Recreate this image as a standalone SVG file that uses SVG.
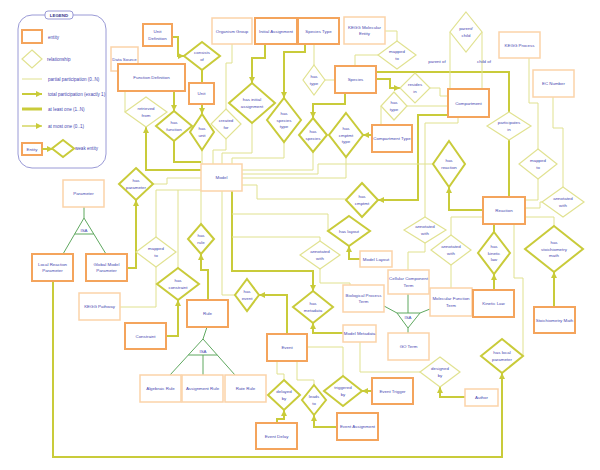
<svg xmlns="http://www.w3.org/2000/svg" width="600" height="470" viewBox="0 0 600 470">
<style>
.et{fill:#fff;stroke:#f4a45c;stroke-width:2}
.el{fill:#fff;stroke:#fbd3a9;stroke-width:1.5}
.rt{fill:#fff;stroke:#c9cb3a;stroke-width:2}
.rl{fill:#fff;stroke:#e1e291;stroke-width:1.2}
.t{fill:none;stroke:#c9cb3a;stroke-width:2}
.ta{fill:none;stroke:#c9cb3a;stroke-width:2;marker-end:url(#ah)}
.l{fill:none;stroke:#e0e18f;stroke-width:1}
.isa{fill:none;stroke:#5fa85f;stroke-width:1}
text{font-family:"Liberation Sans",Arial,sans-serif;font-size:4.4px;fill:#4646b0;text-anchor:middle}
.lg{text-anchor:start;font-size:4.6px}
</style>
<defs>
<marker id="ah" viewBox="0 0 6 6" refX="6" refY="3" markerWidth="6" markerHeight="6" markerUnits="userSpaceOnUse" orient="auto"><path d="M0,0L6,3L0,6z" fill="#c9cb3a"/></marker>
</defs>
<rect width="600" height="470" fill="#fff"/>

<g id="legend">
<rect x="18" y="15" width="88" height="153" rx="14" fill="none" stroke="#9a9ad6" stroke-width="1"/>
<rect x="45" y="11" width="28" height="8" rx="3" fill="#fff" stroke="#9a9ad6" stroke-width="1"/>
<text x="59" y="16.6" style="font-weight:bold;font-size:4.4px;fill:#333388">LEGEND</text>
<rect x="22" y="30" width="20" height="13" class="et"/>
<text class="lg" x="48" y="39">entity</text>
<polygon points="32,50 42,59 32,68 22,59" class="rl"/>
<text class="lg" x="47" y="60.5">relationship</text>
<line x1="22" y1="79" x2="42" y2="79" class="l"/>
<text class="lg" x="48" y="80.5">partial participation (0..N)</text>
<polyline points="22,94 42,94" class="ta"/>
<text class="lg" x="48" y="95.5">total participation (exactly 1)</text>
<line x1="22" y1="109" x2="42" y2="109" stroke="#c9cb3a" stroke-width="3"/>
<text class="lg" x="48" y="110.5">at least one (1..N)</text>
<polyline points="22,126 42,126" fill="none" stroke="#c9cb3a" stroke-width="1.2" marker-end="url(#ah)"/>
<text class="lg" x="48" y="127.5">at most one (0..1)</text>
<rect x="22" y="143" width="20" height="12" class="et"/>
<text x="32" y="150.5">Entity</text>
<polyline points="42,149 53,149" class="ta"/>
<polygon points="63,140 74,148.5 63,157 52,148.5" class="rt"/>
<text class="lg" x="75" y="150">weak entity</text>
</g>

<g id="connectors">
<polyline class="ta" points="172,37 178,37 178,56 184,56"/>
<polyline class="ta" points="174,91 174,111"/>
<polyline class="ta" points="202,104 202,114"/>
<polyline class="ta" points="201,170 146,170 146,127"/>
<polyline class="ta" points="265,44 265,58 252,58 252,83"/>
<polyline class="ta" points="305,44 305,52 284,52 284,98"/>
<polyline class="ta" points="376,79 390,79 390,88 400,88"/>
<polyline class="ta" points="372,135 363,135"/>
<polyline class="ta" points="345,93 345,104 313,104 313,118"/>
<polyline class="ta" points="448,115 418,115 418,200 378,200"/>
<polyline class="ta" points="483,210 449,210 449,187"/>
<polyline class="ta" points="554,307 554,272"/>
<polyline class="ta" points="494,290 494,274"/>
<polyline class="ta" points="53,281 53,457 502,457 502,373"/>
<polyline class="ta" points="127,268 136,268 136,200"/>
<polyline class="ta" points="166,336 178,336 178,300"/>
<polyline class="ta" points="208,300 208,270 201,270 201,254"/>
<polyline class="ta" points="287,334 287,295 259,295"/>
<polyline class="ta" points="232,191 232,271 313,271 313,291"/>
<polyline class="ta" points="343,333 313,333 313,323"/>
<polyline class="ta" points="360,259 349,259 349,246"/>
<polyline class="ta" points="372,391 362,391"/>
<polyline class="ta" points="337,427 314,427 314,415"/>
<polyline class="ta" points="277,423 277,419 284,419 284,410"/>
<polyline class="ta" points="465,397 440,397 440,387"/>
<polyline class="t" points="202,70 202,83"/>
<polyline class="t" points="174,141 174,162 201,162"/>
<polyline class="t" points="376,72 509,72 509,112"/>
<polyline class="t" points="509,140 509,197"/>
<polyline class="t" points="494,224 494,232"/>
<polyline class="l" points="125,71 125,112"/>
<polyline class="l" points="202,150 202,164"/>
<polyline class="l" points="232,44 232,63 226,63 226,109"/>
<polyline class="l" points="226,139 226,150 213,150 213,164"/>
<polyline class="l" points="252,123 252,153 222,153 222,164"/>
<polyline class="l" points="284,142 284,158 232,158 232,164"/>
<polyline class="l" points="314,44 314,65"/>
<polyline class="l" points="325,80 335,80"/>
<polyline class="l" points="385,31 397,31 397,41"/>
<polyline class="l" points="378,55 355,55 355,66"/>
<polyline class="l" points="430,88 440,88 440,96 448,96"/>
<polyline class="l" points="381,106 381,125"/>
<polyline class="l" points="407,106 448,106"/>
<polyline class="l" points="313,152 313,170 242,170"/>
<polyline class="l" points="346,157 346,178 242,178"/>
<polyline class="l" points="433,164 318,164 318,174 242,174"/>
<polyline class="l" points="242,185 257,185 257,199 346,199"/>
<polyline class="l" points="458,117 458,123 425,123 425,217"/>
<polyline class="l" points="450,32 450,89"/>
<polyline class="l" points="482,32 482,89"/>
<polyline class="l" points="529,58 529,103 538,103 538,149"/>
<polyline class="l" points="538,179 538,200 525,200"/>
<polyline class="l" points="553,97 553,128 563,128 563,187"/>
<polyline class="l" points="542,202 540,202 540,208 525,208"/>
<polyline class="l" points="525,217 554,217 554,226"/>
<polyline class="l" points="483,217 451,217 451,235"/>
<polyline class="l" points="451,265 451,288"/>
<polyline class="l" points="425,243 425,252 408,252 408,270"/>
<polyline class="l" points="514,224 514,278 523,278 523,356"/>
<polyline class="l" points="201,178 167,178 167,184 153,184"/>
<polyline class="l" points="201,190 156,190 156,237"/>
<polyline class="l" points="120,307 156,307 156,267"/>
<polyline class="l" points="178,190 178,268"/>
<polyline class="l" points="201,191 201,224"/>
<polyline class="l" points="222,191 222,295 235,295"/>
<polyline class="l" points="232,214 328,214 328,231"/>
<polyline class="l" points="232,237 320,237 320,241"/>
<polyline class="l" points="320,269 320,283 350,283 350,285"/>
<polyline class="l" points="307,347 343,347 343,376"/>
<polyline class="l" points="297,361 297,380 314,380 314,385"/>
<polyline class="l" points="277,361 277,374 284,374 284,380"/>
<polyline class="l" points="360,342 360,372 420,372"/>
<text x="437" y="63">parent of</text>
<text x="484" y="63">child of</text>
</g>

<g id="isa-parameter">
<polyline class="isa" points="84,207 84,218"/>
<polyline class="isa" points="63,254 84,218 106,254"/>
<line class="isa" x1="74.7" y1="234" x2="93.8" y2="234"/>
<text x="84" y="232">ISA</text>
</g>
<g id="isa-rule">
<polyline class="isa" points="207,327 203,339"/>
<polyline class="isa" points="170,375 203,339 235,375"/>
<line class="isa" x1="188.3" y1="355" x2="217.2" y2="355"/>
<line class="isa" x1="203" y1="355" x2="203" y2="375"/>
<text x="203" y="353">ISA</text>
</g>
<g id="isa-go">
<polygon class="isa" points="397,313 420,313 408,328"/>
<line class="isa" x1="384" y1="306" x2="397" y2="313"/>
<line class="isa" x1="430" y1="309" x2="420" y2="313"/>
<line class="isa" x1="408" y1="294" x2="408" y2="313"/>
<line class="isa" x1="408" y1="328" x2="408" y2="333"/>
<text x="408" y="319">ISA</text>
</g>

<g id="e-datasource"><rect class="el" x="111" y="47" width="27" height="24"/><text x="124.5" y="60.5">Data Source</text></g>
<g id="e-unitdef"><rect class="et" x="143" y="24" width="29" height="22"/><text x="157.5" y="33.4">Unit<tspan x="157.5" dy="6.2">Definition</tspan></text></g>
<g id="e-funcdef"><rect class="et" x="118" y="64" width="67" height="27"/><text x="151.5" y="79">Function Definition</text></g>
<g id="e-unit"><rect class="et" x="189" y="83" width="25" height="21"/><text x="201.5" y="95">Unit</text></g>
<g id="e-organismgroup"><rect class="el" x="212" y="18" width="40" height="26"/><text x="232" y="32.5">Organism Group</text></g>
<g id="e-initialassignment"><rect class="et" x="255" y="18" width="42" height="26"/><text x="276" y="32.5">Initial Assignment</text></g>
<g id="e-speciestype"><rect class="et" x="298" y="18" width="41" height="26"/><text x="318.5" y="32.5">Species Type</text></g>
<g id="e-keggmolecularentity"><rect class="el" x="344" y="17" width="41" height="27"/><text x="364.5" y="28.9">KEGG Molecular<tspan x="364.5" dy="6.2">Entity</tspan></text></g>
<g id="e-species"><rect class="et" x="335" y="66" width="41" height="27"/><text x="355.5" y="81">Species</text></g>
<g id="e-compartmenttype"><rect class="et" x="372" y="125" width="40" height="27"/><text x="392" y="140">Compartment Type</text></g>
<g id="e-compartment"><rect class="et" x="448" y="89" width="41" height="28"/><text x="468.5" y="104.5">Compartment</text></g>
<g id="e-keggprocess"><rect class="el" x="499" y="32" width="41" height="26"/><text x="519.5" y="46.5">KEGG Process</text></g>
<g id="e-ecnumber"><rect class="el" x="533" y="70" width="41" height="27"/><text x="553.5" y="85">EC Number</text></g>
<g id="e-model"><rect class="el" x="201" y="164" width="41" height="27"/><text x="221.5" y="179">Model</text></g>
<g id="e-parameter"><rect class="el" x="63" y="180" width="41" height="27"/><text x="83.5" y="195">Parameter</text></g>
<g id="e-localreactionparameter"><rect class="et" x="32" y="254" width="41" height="27"/><text x="52.5" y="265.9">Local Reaction<tspan x="52.5" dy="6.2">Parameter</tspan></text></g>
<g id="e-globalmodelparameter"><rect class="et" x="86" y="254" width="41" height="27"/><text x="106.5" y="265.9">Global Model<tspan x="106.5" dy="6.2">Parameter</tspan></text></g>
<g id="e-keggpathway"><rect class="el" x="79" y="293" width="41" height="27"/><text x="99.5" y="308">KEGG Pathway</text></g>
<g id="e-constraint"><rect class="et" x="125" y="323" width="41" height="26"/><text x="145.5" y="337.5">Constraint</text></g>
<g id="e-rule"><rect class="et" x="187" y="300" width="41" height="27"/><text x="207.5" y="315">Rule</text></g>
<g id="e-algebraicrule"><rect class="el" x="140" y="375" width="41" height="27"/><text x="160.5" y="390">Algebraic Rule</text></g>
<g id="e-assignmentrule"><rect class="el" x="182" y="375" width="41" height="27"/><text x="202.5" y="390">Assignment Rule</text></g>
<g id="e-raterule"><rect class="el" x="225" y="375" width="41" height="27"/><text x="245.5" y="390">Rate Rule</text></g>
<g id="e-event"><rect class="et" x="267" y="334" width="40" height="27"/><text x="287" y="349">Event</text></g>
<g id="e-eventdelay"><rect class="et" x="256" y="423" width="41" height="26"/><text x="276.5" y="437.5">Event Delay</text></g>
<g id="e-eventassignment"><rect class="et" x="337" y="413" width="41" height="27"/><text x="357.5" y="428">Event Assignment</text></g>
<g id="e-eventtrigger"><rect class="et" x="372" y="378" width="41" height="26"/><text x="392.5" y="392.5">Event Trigger</text></g>
<g id="e-modelmetadata"><rect class="el" x="343" y="325" width="33" height="17"/><text x="359.5" y="335">Model Metadata</text></g>
<g id="e-modellayout"><rect class="el" x="360" y="251" width="32" height="16"/><text x="376" y="260.5">Model Layout</text></g>
<g id="e-biologicalprocessterm"><rect class="el" x="343" y="285" width="41" height="27"/><text x="363.5" y="296.9">Biological Process<tspan x="363.5" dy="6.2">Term</tspan></text></g>
<g id="e-cellularcomponentterm"><rect class="el" x="388" y="270" width="41" height="24"/><text x="408.5" y="280.4">Cellular Component<tspan x="408.5" dy="6.2">Term</tspan></text></g>
<g id="e-molecularfunctionterm"><rect class="el" x="430" y="288" width="42" height="28"/><text x="451" y="300.4">Molecular Function<tspan x="451" dy="6.2">Term</tspan></text></g>
<g id="e-goterm"><rect class="el" x="388" y="333" width="41" height="27"/><text x="408.5" y="348">GO Term</text></g>
<g id="e-reaction"><rect class="et" x="483" y="197" width="42" height="27"/><text x="504" y="212">Reaction</text></g>
<g id="e-kineticlaw"><rect class="et" x="473" y="290" width="41" height="27"/><text x="493.5" y="305">Kinetic Law</text></g>
<g id="e-stoichiometrymath"><rect class="et" x="534" y="307" width="41" height="26"/><text x="554.5" y="321.5">Stoichiometry Math</text></g>
<g id="e-author"><rect class="el" x="465" y="389" width="33" height="17"/><text x="481.5" y="399">Author</text></g>

<g id="r-consistsof"><polygon class="rt" points="202,42 220,56 202,70 184,56"/><text x="202" y="54.4">consists<tspan x="202" dy="6.2">of</tspan></text></g>
<g id="r-retrievedfrom"><polygon class="rl" points="146,97 167,112 146,127 125,112"/><text x="146" y="110.4">retrieved<tspan x="146" dy="6.2">from</tspan></text></g>
<g id="r-hasfunction"><polygon class="rt" points="174,111 192,126 174,141 156,126"/><text x="174" y="124.4">has<tspan x="174" dy="6.2">function</tspan></text></g>
<g id="r-hasunit"><polygon class="rt" points="202,114 214,132 202,150 190,132"/><text x="202" y="130.4">has<tspan x="202" dy="6.2">unit</tspan></text></g>
<g id="r-createdfor"><polygon class="rl" points="226,109 241,124 226,139 211,124"/><text x="226" y="122.4">created<tspan x="226" dy="6.2">for</tspan></text></g>
<g id="r-hasinitialassignment"><polygon class="rt" points="252,83 275,103 252,123 229,103"/><text x="252" y="101.4">has initial<tspan x="252" dy="6.2">assignment</tspan></text></g>
<g id="r-hasspeciestype"><polygon class="rt" points="284,98 301,120 284,142 267,120"/><text x="284" y="115.3">has<tspan x="284" dy="6.2">species</tspan><tspan x="284" dy="6.2">type</tspan></text></g>
<g id="r-hastype1"><polygon class="rl" points="314,65 325,80 314,95 303,80"/><text x="314" y="78.4">has<tspan x="314" dy="6.2">type</tspan></text></g>
<g id="r-mappedto1"><polygon class="rl" points="397,41 416,55 397,69 378,55"/><text x="397" y="53.4">mapped<tspan x="397" dy="6.2">to</tspan></text></g>
<g id="r-residesin"><polygon class="rl" points="415,73 430,88 415,103 400,88"/><text x="415" y="86.4">resides<tspan x="415" dy="6.2">in</tspan></text></g>
<g id="r-hastype2"><polygon class="rl" points="394,92 407,106 394,120 381,106"/><text x="394" y="104.4">has<tspan x="394" dy="6.2">type</tspan></text></g>
<g id="r-hasspecies"><polygon class="rt" points="313,118 327,135 313,152 299,135"/><text x="313" y="133.4">has<tspan x="313" dy="6.2">species</tspan></text></g>
<g id="r-hascmptmttype"><polygon class="rt" points="346,113 363,135 346,157 329,135"/><text x="346" y="130.3">has<tspan x="346" dy="6.2">cmptmt</tspan><tspan x="346" dy="6.2">type</tspan></text></g>
<g id="r-parentchild"><polygon class="rl" points="466,12 482,32 466,52 450,32"/><text x="466" y="30.4">parent/<tspan x="466" dy="6.2">child</tspan></text></g>
<g id="r-participatesin"><polygon class="rl" points="509,112 531,126 509,140 487,126"/><text x="509" y="124.4">participates<tspan x="509" dy="6.2">in</tspan></text></g>
<g id="r-hasreaction"><polygon class="rt" points="449,141 465,164 449,187 433,164"/><text x="449" y="162.4">has<tspan x="449" dy="6.2">reaction</tspan></text></g>
<g id="r-mappedto2"><polygon class="rl" points="538,149 557,164 538,179 519,164"/><text x="538" y="162.4">mapped<tspan x="538" dy="6.2">to</tspan></text></g>
<g id="r-annotatedwith1"><polygon class="rl" points="563,187 584,202 563,217 542,202"/><text x="563" y="200.4">annotated<tspan x="563" dy="6.2">with</tspan></text></g>
<g id="r-hasparameter"><polygon class="rt" points="136,168 153,184 136,200 119,184"/><text x="136" y="182.4">has<tspan x="136" dy="6.2">parameter</tspan></text></g>
<g id="r-mappedto3"><polygon class="rl" points="156,237 176,252 156,267 136,252"/><text x="156" y="250.4">mapped<tspan x="156" dy="6.2">to</tspan></text></g>
<g id="r-hasconstraint"><polygon class="rt" points="178,268 199,284 178,300 157,284"/><text x="178" y="282.4">has<tspan x="178" dy="6.2">constraint</tspan></text></g>
<g id="r-hasrule"><polygon class="rt" points="201,224 214,239 201,254 188,239"/><text x="201" y="237.4">has<tspan x="201" dy="6.2">rule</tspan></text></g>
<g id="r-hasevent"><polygon class="rt" points="247,279 259,295 247,311 235,295"/><text x="247" y="293.4">has<tspan x="247" dy="6.2">event</tspan></text></g>
<g id="r-hascmptmt"><polygon class="rt" points="362,183 378,200 362,217 346,200"/><text x="362" y="198.4">has<tspan x="362" dy="6.2">cmptmt</tspan></text></g>
<g id="r-haslayout"><polygon class="rt" points="349,216 370,231 349,246 328,231"/><text x="349" y="232.5">has layout</text></g>
<g id="r-annotatedwith2"><polygon class="rl" points="320,241 340,255 320,269 300,255"/><text x="320" y="253.4">annotated<tspan x="320" dy="6.2">with</tspan></text></g>
<g id="r-annotatedwith3"><polygon class="rl" points="425,217 446,230 425,243 404,230"/><text x="425" y="228.4">annotated<tspan x="425" dy="6.2">with</tspan></text></g>
<g id="r-annotatedwith4"><polygon class="rl" points="451,235 471,250 451,265 431,250"/><text x="451" y="248.4">annotated<tspan x="451" dy="6.2">with</tspan></text></g>
<g id="r-hasmetadata"><polygon class="rt" points="313,291 333,307 313,323 293,307"/><text x="313" y="305.4">has<tspan x="313" dy="6.2">metadata</tspan></text></g>
<g id="r-haskineticlaw"><polygon class="rt" points="494,232 510,253 494,274 478,253"/><text x="494" y="248.3">has<tspan x="494" dy="6.2">kinetic</tspan><tspan x="494" dy="6.2">law</tspan></text></g>
<g id="r-hasstoichiometrymath"><polygon class="rt" points="554,226 583,249 554,272 525,249"/><text x="554" y="244.3">has<tspan x="554" dy="6.2">stoichiometry</tspan><tspan x="554" dy="6.2">math</tspan></text></g>
<g id="r-haslocalparameter"><polygon class="rt" points="502,339 523,356 502,373 481,356"/><text x="502" y="354.4">has local<tspan x="502" dy="6.2">parameter</tspan></text></g>
<g id="r-designedby"><polygon class="rl" points="440,357 460,372 440,387 420,372"/><text x="440" y="370.4">designed<tspan x="440" dy="6.2">by</tspan></text></g>
<g id="r-triggeredby"><polygon class="rt" points="343,376 362,391 343,406 324,391"/><text x="343" y="389.4">triggered<tspan x="343" dy="6.2">by</tspan></text></g>
<g id="r-leadsto"><polygon class="rt" points="314,385 326,400 314,415 302,400"/><text x="314" y="398.4">leads<tspan x="314" dy="6.2">to</tspan></text></g>
<g id="r-delayedby"><polygon class="rt" points="284,380 300,395 284,410 268,395"/><text x="284" y="393.4">delayed<tspan x="284" dy="6.2">by</tspan></text></g>
</svg>
